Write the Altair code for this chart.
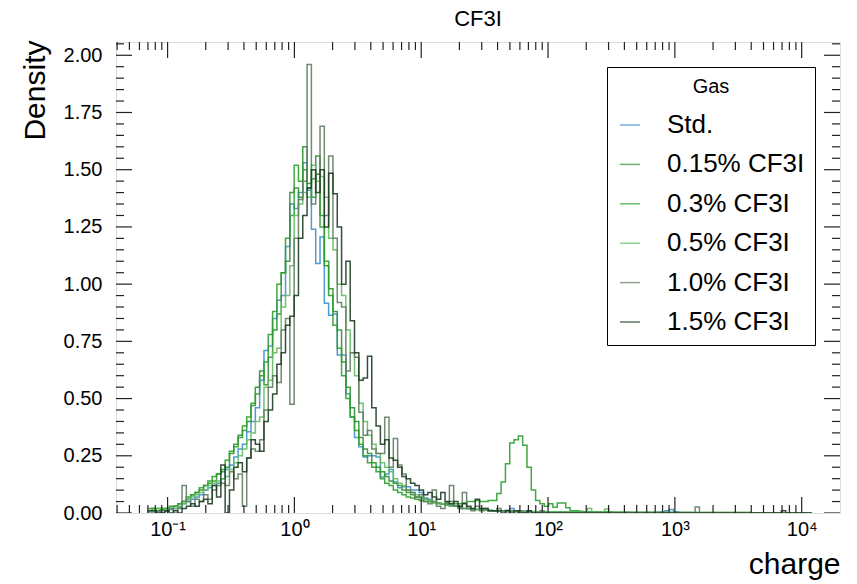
import altair as alt
import pandas as pd

# ---------------- data ----------------
gases = ["Std.", "0.15% CF3I", "0.3% CF3I", "0.5% CF3I", "1.0% CF3I", "1.5% CF3I"]
colors = ["#3d8fd1", "#2e922e", "#2ca02c", "#62bd62", "#627d62", "#1f3d24"]

# histogram binning (log-spaced bins): log10 of first edge and bin width in decades
first_edge_exp = -1.158
bin_step_dec = 0.034

std_vals = [
    0.01, 0.01, 0.005, 0.01, 0.01, 0.015, 0.02, 0.025, 0.04, 0.05,
    0.06, 0.07, 0.08, 0.10, 0.11, 0.12, 0.13, 0.15, 0.19, 0.21,
    0.245, 0.28, 0.30, 0.355, 0.40, 0.46, 0.58, 0.71, 0.73, 0.85,
    0.93, 0.95, 1.165, 1.35, 1.33, 1.40, 1.53, 1.41, 1.24, 1.09,
    1.206, 0.916, 0.864, 0.87, 0.69, 0.69, 0.52, 0.42, 0.33, 0.29,
    0.245, 0.25, 0.25, 0.245, 0.157, 0.17, 0.19, 0.135, 0.11, 0.115,
    0.115, 0.10, 0.10, 0.09, 0.065, 0.06, 0.05, 0.045, 0.04, 0.035,
    0.035, 0.03, 0.025, 0.02, 0.02, 0.018, 0.015, 0.015, 0.012, 0.012,
    0.01, 0.01, 0.01, 0.012, 0.02, 0.01, 0.008, 0.008, 0.007, 0.007,
    0.006, 0.006, 0.006, 0.005, 0.005, 0.005, 0.004, 0.004, 0.004, 0.004,
    0.004, 0.003, 0.003, 0.003, 0.003, 0.003, 0.003, 0.002, 0.002, 0.002,
    0.002, 0.002, 0.002, 0.002, 0.002, 0.002, 0.002, 0.002, 0.003, 0.004,
    0.010, 0.015, 0.006, 0.002, 0.002, 0.002, 0.001, 0.001, 0.001, 0.001,
    0.001, 0.001, 0.001, 0.001, 0.001, 0.001, 0.001, 0.001, 0.001, 0.001,
    0.001, 0.001, 0.001, 0.001, 0.001, 0.001, 0.001, 0.001, 0.001, 0.001,
    0.001, 0.001, 0.001, 0.001,
]
cf015_vals = [
    0.01, 0.02, 0.02, 0.015, 0.02, 0.02, 0.03, 0.04, 0.05, 0.07,
    0.08, 0.09, 0.10, 0.12, 0.13, 0.14, 0.17, 0.18, 0.20, 0.26,
    0.30, 0.34, 0.36, 0.40, 0.47, 0.55, 0.62, 0.56, 0.68, 0.80,
    0.87, 1.05, 1.10, 1.40, 1.42, 1.38, 1.60, 1.44, 1.46, 1.56,
    1.30, 1.08, 0.98, 0.88, 0.80, 0.66, 0.55, 0.46, 0.40, 0.33,
    0.28, 0.26, 0.22, 0.20, 0.18, 0.16, 0.14, 0.13, 0.12, 0.10,
    0.09, 0.08, 0.07, 0.07, 0.06, 0.05, 0.05, 0.04, 0.04, 0.035,
    0.03, 0.03, 0.025, 0.02, 0.02, 0.018, 0.015, 0.012, 0.012, 0.01,
    0.01, 0.01, 0.009, 0.009, 0.008, 0.008, 0.007, 0.007, 0.006, 0.006,
    0.006, 0.005, 0.005, 0.005, 0.004, 0.004, 0.004, 0.004, 0.003, 0.003,
    0.003, 0.003, 0.003, 0.003, 0.003, 0.002, 0.002, 0.002, 0.002, 0.002,
    0.002, 0.002, 0.002, 0.002, 0.002, 0.002, 0.002, 0.002, 0.002, 0.002,
    0.002, 0.002, 0.002, 0.001, 0.001, 0.001, 0.001, 0.001, 0.001, 0.001,
    0.001, 0.001, 0.001, 0.001, 0.001, 0.001, 0.001, 0.001, 0.001, 0.001,
    0.001, 0.001, 0.001, 0.001, 0.001, 0.001, 0.001, 0.001, 0.001, 0.001,
    0.001, 0.001, 0.001, 0.001,
]
cf03_vals = [
    0.02, 0.02, 0.01, 0.02, 0.02, 0.03, 0.03, 0.04, 0.05, 0.06,
    0.08, 0.09, 0.11, 0.12, 0.14, 0.16, 0.17, 0.19, 0.23, 0.27,
    0.29, 0.33, 0.38, 0.42, 0.48, 0.52, 0.60, 0.66, 0.78, 0.88,
    1.00, 1.05, 1.20, 1.30, 1.52, 1.45, 1.50, 1.42, 1.38, 1.48,
    1.25, 1.10, 0.95, 0.82, 0.72, 0.60, 0.50, 0.42, 0.36, 0.30,
    0.25, 0.22, 0.20, 0.18, 0.15, 0.13, 0.12, 0.10, 0.09, 0.08,
    0.07, 0.065, 0.06, 0.055, 0.05, 0.05, 0.045, 0.045, 0.04, 0.045,
    0.05, 0.04, 0.04, 0.045, 0.05, 0.05, 0.055, 0.05, 0.05, 0.055,
    0.055, 0.085, 0.135, 0.215, 0.306, 0.32, 0.336, 0.296, 0.20, 0.10,
    0.055, 0.04, 0.03, 0.04, 0.025, 0.044, 0.044, 0.023, 0.01, 0.01,
    0.008, 0.006, 0.006, 0.005, 0.005, 0.004, 0.004, 0.004, 0.003, 0.003,
    0.003, 0.003, 0.002, 0.002, 0.002, 0.002, 0.002, 0.002, 0.002, 0.002,
    0.002, 0.002, 0.002, 0.002, 0.002, 0.002, 0.002, 0.002, 0.002, 0.002,
    0.002, 0.002, 0.002, 0.002, 0.002, 0.002, 0.002, 0.002, 0.002, 0.002,
    0.001, 0.001, 0.001, 0.001, 0.001, 0.001, 0.001, 0.001, 0.001, 0.001,
    0.001, 0.001, 0.001, 0.001,
]
cf05_vals = [
    0.01, 0.01, 0.02, 0.02, 0.01, 0.02, 0.02, 0.03, 0.04, 0.06,
    0.07, 0.08, 0.09, 0.10, 0.12, 0.13, 0.14, 0.15, 0.16, 0.19,
    0.22, 0.25, 0.28, 0.32, 0.35, 0.40, 0.42, 0.55, 0.58, 0.70,
    0.72, 0.90, 0.95, 1.08, 1.30, 1.35, 1.40, 1.38, 1.52, 1.45,
    1.47, 1.38, 1.20, 1.15, 1.00, 0.95, 0.80, 0.70, 0.60, 0.48,
    0.40, 0.34, 0.30, 0.26, 0.22, 0.20, 0.18, 0.15, 0.13, 0.12,
    0.10, 0.09, 0.08, 0.07, 0.06, 0.055, 0.05, 0.045, 0.04, 0.035,
    0.03, 0.03, 0.025, 0.02, 0.02, 0.018, 0.015, 0.015, 0.012, 0.012,
    0.01, 0.01, 0.009, 0.009, 0.008, 0.008, 0.007, 0.007, 0.006, 0.006,
    0.006, 0.005, 0.005, 0.005, 0.004, 0.004, 0.004, 0.004, 0.003, 0.003,
    0.003, 0.003, 0.02, 0.003, 0.003, 0.003, 0.018, 0.002, 0.002, 0.002,
    0.002, 0.002, 0.002, 0.002, 0.002, 0.002, 0.002, 0.002, 0.002, 0.002,
    0.002, 0.002, 0.002, 0.002, 0.002, 0.002, 0.002, 0.002, 0.002, 0.002,
    0.002, 0.002, 0.002, 0.002, 0.002, 0.002, 0.002, 0.002, 0.002, 0.002,
    0.001, 0.001, 0.001, 0.001, 0.001, 0.001, 0.001, 0.001, 0.001, 0.001,
    0.001, 0.001, 0.001, 0.001,
]
cf10_vals = [
    0.0, 0.0, 0.01, 0.0, 0.01, 0.02, 0.0, 0.02, 0.12, 0.05,
    0.03, 0.06, 0.05, 0.08, 0.06, 0.10, 0.12, 0.13, 0.12, 0.18,
    0.15, 0.17, 0.03, 0.24, 0.28, 0.27, 0.32, 0.45, 0.55, 0.60,
    0.57, 0.80, 0.85, 0.475, 1.20, 1.37, 1.45, 1.96, 1.35, 1.48,
    1.69, 1.30, 1.56, 1.20, 0.92, 0.90, 0.62, 0.70, 0.68, 0.44,
    0.34, 0.36, 0.28, 0.26, 0.26, 0.418, 0.20, 0.326, 0.21, 0.17,
    0.10, 0.09, 0.07, 0.08, 0.05, 0.04, 0.10, 0.03, 0.02, 0.04,
    0.12, 0.03, 0.02, 0.09, 0.02, 0.01, 0.03, 0.01, 0.02, 0.01,
    0.01, 0.02, 0.01, 0.0, 0.01, 0.0, 0.01, 0.0, 0.01, 0.0,
    0.0, 0.01, 0.0, 0.0, 0.0, 0.0, 0.0, 0.0, 0.0, 0.0,
    0.0, 0.0, 0.0, 0.0, 0.0, 0.0, 0.0, 0.0, 0.0, 0.0,
    0.0, 0.0, 0.0, 0.0, 0.0, 0.0, 0.0, 0.0, 0.0, 0.0,
    0.0, 0.0, 0.0, 0.0, 0.0, 0.0, 0.0, 0.026, 0.0, 0.0,
    0.0, 0.0, 0.0, 0.0, 0.0, 0.0, 0.0, 0.0, 0.0, 0.0,
    0.0, 0.0, 0.0, 0.0, 0.0, 0.0, 0.0, 0.0, 0.0, 0.0,
    0.0, 0.0, 0.0, 0.0,
]
cf15_vals = [
    0.01, 0.01, 0.0, 0.0, 0.01, 0.0, 0.01, 0.0, 0.02, 0.03,
    0.04, 0.03, 0.05, 0.06, 0.04, 0.12, 0.07, 0.21, 0.0, 0.10,
    0.20, 0.22, 0.18, 0.24, 0.32, 0.30, 0.27, 0.40, 0.45, 0.52,
    0.65, 0.70, 0.82, 0.86, 0.95, 1.20, 1.30, 1.42, 1.50, 1.40,
    1.50, 1.25, 1.485, 1.395, 1.25, 1.00, 1.10, 0.84, 0.70, 0.58,
    0.59, 0.685, 0.46, 0.38, 0.30, 0.32, 0.24, 0.23, 0.20, 0.16,
    0.15, 0.13, 0.12, 0.10, 0.08, 0.09, 0.07, 0.06, 0.09, 0.05,
    0.04, 0.05, 0.03, 0.04, 0.03, 0.02, 0.06, 0.02, 0.02, 0.01,
    0.01, 0.01, 0.0, 0.01, 0.0, 0.01, 0.0, 0.0, 0.01, 0.0,
    0.0, 0.0, 0.0, 0.0, 0.0, 0.0, 0.0, 0.0, 0.0, 0.0,
    0.0, 0.0, 0.0, 0.0, 0.0, 0.0, 0.0, 0.0, 0.0, 0.0,
    0.0, 0.0, 0.0, 0.0, 0.0, 0.0, 0.0, 0.0, 0.0, 0.0,
    0.0, 0.0, 0.0, 0.0, 0.0, 0.0, 0.0, 0.0, 0.0, 0.0,
    0.0, 0.0, 0.0, 0.0, 0.0, 0.0, 0.0, 0.0, 0.0, 0.0,
    0.0, 0.0, 0.0, 0.0, 0.0, 0.0, 0.0, 0.01, 0.0, 0.0,
    0.0, 0.0, 0.0, 0.0,
]
series = [std_vals, cf015_vals, cf03_vals, cf05_vals, cf10_vals, cf15_vals]

# tick positions
x_major_ticks = [0.1, 1, 10, 100, 1000, 10000]
x_minor_ticks = [m * d for d in [0.01, 0.1, 1, 10, 100, 1000] for m in range(2, 10)]
x_minor_ticks = [t for t in x_minor_ticks if t > 0.039]
y_major_ticks = [0, 0.25, 0.5, 0.75, 1.0, 1.25, 1.5, 1.75, 2.0]
y_minor_ticks = [0.05, 0.1, 0.15, 0.2, 0.3, 0.35, 0.4, 0.45, 0.55, 0.6, 0.65, 0.7,
                 0.8, 0.85, 0.9, 0.95, 1.05, 1.1, 1.15, 1.2, 1.3, 1.35, 1.4, 1.45,
                 1.55, 1.6, 1.65, 1.7, 1.8, 1.85, 1.9, 1.95, 2.05]

# ---------------- build table ----------------
rows = []
for g, vals in zip(gases, series):
    n = len(vals)
    for k, v in enumerate(vals):
        rows.append({"gas": g, "x": 10 ** (first_edge_exp + bin_step_dec * k), "density": v, "order": k})
    rows.append({"gas": g, "x": 10 ** (first_edge_exp + bin_step_dec * n), "density": vals[-1], "order": n})
df = pd.DataFrame(rows)

W, H = 724, 471
FONT = "Liberation Sans"
xscale = alt.Scale(type="log", domain=[0.0392, 20050], nice=False)
yscale = alt.Scale(domain=[0, 2.058], nice=False, zero=False)

label_expr = ("'10' + (datum.value < 0.5 ? '⁻¹' : datum.value < 5 ? '⁰' : datum.value < 50 ? '¹' : "
              "datum.value < 500 ? '²' : datum.value < 5000 ? '³' : '⁴')")

lines = alt.Chart(df).mark_line(interpolate="step-after", strokeWidth=1.5, opacity=0.9, clip=True).encode(
    x=alt.X("x:Q", scale=xscale,
            axis=alt.Axis(values=x_major_ticks, labelExpr=label_expr, ticks=False, grid=False, domain=False,
                          labelFontSize=20, labelFont=FONT, labelColor="black", labelPadding=6,
                          title="charge", titleFontSize=30, titleFont=FONT, titleFontWeight="normal",
                          titleColor="black", titleAnchor="end", titleAlign="right", titleX=W, titleY=60,
                          titleBaseline="alphabetic", labelFlush=False, labelOverlap=False)),
    y=alt.Y("density:Q", scale=yscale,
            axis=alt.Axis(values=y_major_ticks, format=".2f", ticks=False, grid=False, domain=False,
                          labelFontSize=20, labelFont=FONT, labelColor="black", labelPadding=14,
                          title="Density", titleFontSize=30, titleFont=FONT, titleFontWeight="normal",
                          titleColor="black", titleAngle=-90, titleAlign="right", titleX=-72, titleY=-2,
                          titleBaseline="alphabetic", labelFlush=False, labelOverlap=False)),
    color=alt.Color("gas:N", scale=alt.Scale(domain=gases, range=colors),
                    legend=alt.Legend(title="Gas", orient="none", legendX=491, legendY=25,
                                      titleAnchor="middle", titleAlign="center", titleFontSize=20,
                                      titleFontWeight="normal", titleFont=FONT, titleColor="black",
                                      titlePadding=15, labelFontSize=26, labelFont=FONT, labelColor="black",
                                      symbolType="stroke", symbolSize=400, symbolStrokeWidth=1.5,
                                      symbolOpacity=0.7, labelOffset=24, rowPadding=13.4, padding=10,
                                      strokeColor="black", fillColor="white")),
    detail="gas:N",
    order="order:Q",
)

tick_color = "#222222"
xmaj = pd.DataFrame({"x": x_major_ticks})
xmin = pd.DataFrame({"x": x_minor_ticks})
ymaj = pd.DataFrame({"y": y_major_ticks})
ymin = pd.DataFrame({"y": y_minor_ticks})


def xticks(data, length):
    bottom = alt.Chart(data).mark_rule(color=tick_color, strokeWidth=1.2).encode(
        x=alt.X("x:Q", scale=xscale), y=alt.value(H), y2=alt.value(H - length))
    top = alt.Chart(data).mark_rule(color=tick_color, strokeWidth=1.2).encode(
        x=alt.X("x:Q", scale=xscale), y=alt.value(0), y2=alt.value(length))
    return [bottom, top]


def yticks(data, length):
    left = alt.Chart(data).mark_rule(color=tick_color, strokeWidth=1.2, clip=True).encode(
        y=alt.Y("y:Q", scale=yscale), x=alt.value(0), x2=alt.value(length))
    right = alt.Chart(data).mark_rule(color=tick_color, strokeWidth=1.2, clip=True).encode(
        y=alt.Y("y:Q", scale=yscale), x=alt.value(W), x2=alt.value(W - length))
    return [left, right]


layers = [lines] + xticks(xmaj, 16) + xticks(xmin, 8) + yticks(ymaj, 16) + yticks(ymin, 8)

chart = alt.layer(*layers).properties(
    width=W, height=H,
    title=alt.TitleParams("CF3I", fontSize=22, fontWeight="normal", font=FONT, color="black",
                          anchor="middle", offset=9),
    autosize=alt.AutoSizeParams(type="none"),
    padding={"left": 116, "top": 42, "right": 17, "bottom": 71},
).configure_view(stroke="#222222", strokeWidth=1.5).configure(background="white")

chart.save("out.html", embed_options={"renderer": "svg", "actions": False})
